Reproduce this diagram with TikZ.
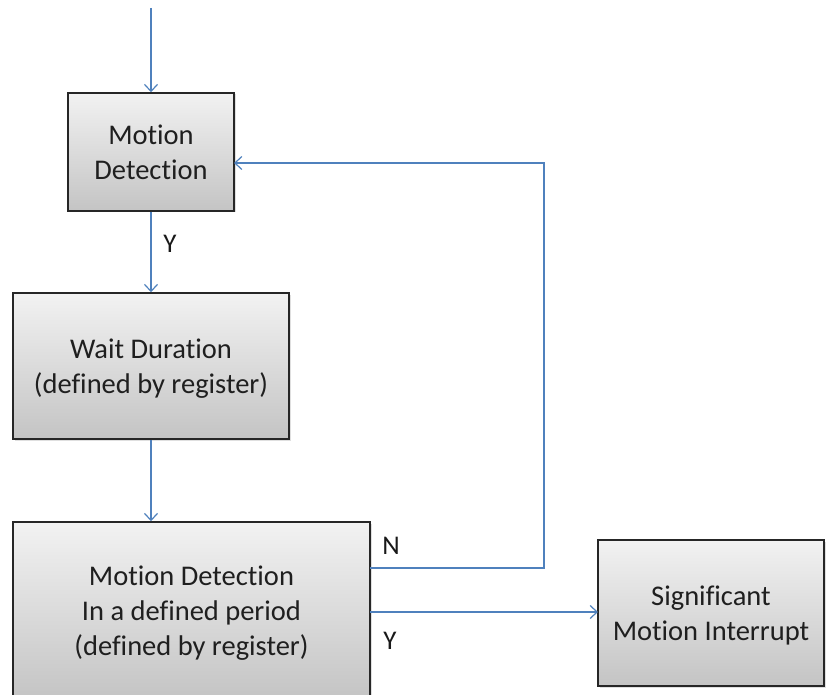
\documentclass[tikz,border=0pt]{standalone}
\usepackage{fontspec}
\setmainfont{Carlito}[Ligatures={NoCommon}]
\usetikzlibrary{arrows.meta,shadows}
\definecolor{linkblue}{RGB}{79,129,189}
\definecolor{boxtop}{RGB}{242,242,242}
\definecolor{boxbot}{RGB}{196,196,196}
\tikzset{
  stepbox/.style={draw=black!85, line width=1.5pt, top color=boxtop, bottom color=boxbot,
    inner sep=0pt,
    drop shadow={shadow xshift=1.5pt, shadow yshift=-1.5pt, opacity=0.25}},
  boxtext/.style={font=\fontsize{28.5}{35}\selectfont, text=black!88, align=center, inner sep=0pt},
  flow/.style={draw=linkblue, line width=1.2pt, -{Straight Barb[length=7pt,width=13pt]}},
  lbl/.style={font=\fontsize{27}{30}\selectfont, text=black!90, inner sep=0pt}
}
\begin{document}
\begin{tikzpicture}[x=1pt,y=-1pt]
\useasboundingbox (0,0) rectangle (827,695);
\node[stepbox, minimum width=166pt, minimum height=118pt] (md) at (151,152) {};
\node[stepbox, minimum width=276pt, minimum height=146pt] (wd) at (151,366) {};
\node[stepbox, minimum width=357pt, minimum height=178pt] (mp) at (191.5,611) {};
\node[stepbox, minimum width=226pt, minimum height=146pt] (smi) at (711,613) {};
\node[boxtext] (mdtxt) at ([yshift=-0.5pt]md.center) {Motion\\Detection};
\node[boxtext] (wdtxt) at ([yshift=-2.5pt]wd.center) {Wait Duration\\(defined by register)};
\node[boxtext] (mptxt) at ([yshift=-2.5pt]mp.center) {Motion Detection\\In a defined period\\(defined by register)};
\node[boxtext] (smitxt) at ([yshift=-2pt]smi.center) {Significant\\Motion Interrupt};
\coordinate (top) at (151,8);
\coordinate (nout) at (370,568);
\coordinate (ncorner1) at (544,568);
\coordinate (ncorner2) at (544,163);
\coordinate (nin) at (234,163);
\coordinate (yout) at (370,612);
\coordinate (yin) at (598,612);
\draw[flow] (top) -- (md.north);
\draw[flow] (md.south) -- (wd.north);
\draw[flow] (wd.south) -- (wd.south |- mp.north);
\draw[flow] (nout) -- (ncorner1) -- (ncorner2) -- (nin);
\draw[flow] (yout) -- (yin);
\node[lbl] (ly1) at (170,244) {Y};
\node[lbl] (ln) at (391,546) {N};
\node[lbl] (ly2) at (390,641) {Y};
\end{tikzpicture}
\end{document}
